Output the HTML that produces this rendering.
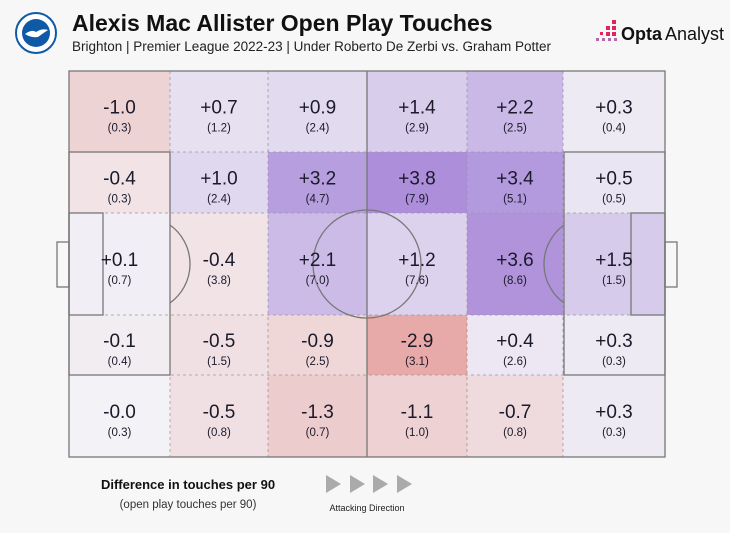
<!DOCTYPE html>
<html><head><meta charset="utf-8"><style>
body{margin:0;background:#f7f7f7;width:730px;height:528px;overflow:hidden;font-family:"Liberation Sans",sans-serif}
</style></head><body>
<svg width="730" height="528" xmlns="http://www.w3.org/2000/svg">
<g>
<circle cx="36" cy="33" r="20" fill="#fff" stroke="#0e5aa7" stroke-width="2"/>
<circle cx="36" cy="33" r="14" fill="#0e5aa7"/>
<path d="M25 34 Q32 29 36 32 Q42 28 48 30 Q42 34 38 37 Q31 38 25 34Z" fill="#fff"/>
</g>
<text x="72" y="31" font-size="23" font-weight="bold" fill="#111">Alexis Mac Allister Open Play Touches</text>
<text x="72" y="51" font-size="13.5" fill="#222">Brighton | Premier League 2022-23 | Under Roberto De Zerbi vs. Graham Potter</text>
<g>
<rect x="612" y="20" width="4" height="4" fill="#e0245e"/><rect x="606" y="26" width="4" height="4" fill="#e0245e"/><rect x="612" y="26" width="4" height="4" fill="#e0245e"/><rect x="600" y="32" width="3" height="3" fill="#e0245e"/><rect x="606" y="32" width="4" height="4" fill="#e0245e"/><rect x="612" y="32" width="4" height="4" fill="#e0245e"/><rect x="596" y="38" width="3" height="3" fill="#b06ab0"/><rect x="602" y="38" width="3" height="3" fill="#b06ab0"/><rect x="608" y="38" width="3" height="3" fill="#b06ab0"/><rect x="614" y="38" width="3" height="3" fill="#b06ab0"/>
<text x="621" y="40" font-size="18" font-weight="bold" fill="#111">Opta</text>
<text x="665" y="40" font-size="18" fill="#111">Analyst</text>
</g>
<g id="cells"></g>
<g id="lines" fill="none" stroke="#777" stroke-width="1.3"></g>
<g id="labels"></g>
<text x="188" y="489" font-size="13" font-weight="bold" fill="#111" text-anchor="middle">Difference in touches per 90</text>
<text x="188" y="508" font-size="11.5" fill="#333" text-anchor="middle">(open play touches per 90)</text>
<g fill="#aaa">
<polygon points="326,475 341,484 326,493"/><polygon points="350,475 365,484 350,493"/><polygon points="373,475 388,484 373,493"/><polygon points="397,475 412,484 397,493"/>
</g>
<text x="367" y="511" font-size="9" fill="#222" text-anchor="middle">Attacking Direction</text>
</svg>
<script>
const colLabels=["c1","c2","c3","c4","c5","c6"];
const rowLabels=["r1","r2","r3","r4","r5"];
const diffValues=[
[-1.0,0.7,0.9,1.4,2.2,0.3],
[-0.4,1.0,3.2,3.8,3.4,0.5],
[0.1,-0.4,2.1,1.2,3.6,1.5],
[-0.1,-0.5,-0.9,-2.9,0.4,0.3],
[-0.0,-0.5,-1.3,-1.1,-0.7,0.3]];
const touchValues=[
[0.3,1.2,2.4,2.9,2.5,0.4],
[0.3,2.4,4.7,7.9,5.1,0.5],
[0.7,3.8,7.0,7.6,8.6,1.5],
[0.4,1.5,2.5,3.1,2.6,0.3],
[0.3,0.8,0.7,1.0,0.8,0.3]];
const diffSigns=diffValues.map(r=>r.map(v=>Object.is(v,-0)?"-":(v>=0?"+":"-")));
const NS="http://www.w3.org/2000/svg";
const xEdges=[69,170,268,367,467,563,665];
const yEdges=[71,152,213,315,375,457];
function xPos(i){return xEdges[i];}
function yPos(j){return yEdges[j];}
function mix(a,b,t){return a.map((v,k)=>Math.round(v+(b[k]-v)*t));}
function color(v){const base=[243,242,246];
 if(v>=0){return "rgb("+mix(base,[172,142,218],Math.min(v/3.8,1)).join(",")+")";}
 const t=Math.min(-v/2.9,1);
 return "rgb("+mix(base,[232,170,168],Math.pow(t,0.8)).join(",")+")";}
const cells=document.getElementById('cells'),labels=document.getElementById('labels'),lines=document.getElementById('lines');
function mk(tag,attrs,parent){const e=document.createElementNS(NS,tag);for(const k in attrs)e.setAttribute(k,attrs[k]);parent.appendChild(e);return e;}
rowLabels.forEach((r,j)=>colLabels.forEach((c,i)=>{
 const v=diffValues[j][i];
 const rc=mk('rect',{x:xPos(i),y:yPos(j),width:xPos(i+1)-xPos(i),height:yPos(j+1)-yPos(j),fill:color(v)},cells);
 
 
 const cx=(xPos(i)+xPos(i+1))/2, cy=(yPos(j)+yPos(j+1))/2;
 const t=mk('text',{x:cx,y:cy+2,'font-size':19,'text-anchor':'middle',fill:'#1a1a2a'},labels);
 t.textContent=diffSigns[j][i]+Math.abs(v).toFixed(1);
 
 
 const t2=mk('text',{x:cx,y:cy+20,'font-size':11.5,'text-anchor':'middle',fill:'#1a1a2a'},labels);
 t2.textContent='('+touchValues[j][i].toFixed(1)+')';
 
 
}));
for(let i=1;i<6;i++){if(i===3)continue;mk('line',{x1:xPos(i),y1:71,x2:xPos(i),y2:457,stroke:'#999','stroke-width':0.8,'stroke-dasharray':'3,3'},lines);}
for(let j=1;j<5;j++){mk('line',{x1:69,y1:yPos(j),x2:665,y2:yPos(j),stroke:'#999','stroke-width':0.8,'stroke-dasharray':'3,3'},lines);}
mk('rect',{x:69,y:71,width:596,height:386},lines);
mk('line',{x1:367,y1:71,x2:367,y2:457},lines);
mk('circle',{cx:367,cy:264,r:54},lines);
mk('rect',{x:69,y:152,width:101,height:223},lines);
mk('rect',{x:564,y:152,width:101,height:223},lines);
mk('rect',{x:69,y:213,width:34,height:102},lines);
mk('rect',{x:631,y:213,width:34,height:102},lines);
mk('rect',{x:57,y:242,width:12,height:45},lines);
mk('rect',{x:665,y:242,width:12,height:45},lines);
mk('path',{d:'M170 225 A48 48 0 0 1 170 303'},lines);
mk('path',{d:'M564 225 A48 48 0 0 0 564 303'},lines);
</script>
</body></html>
